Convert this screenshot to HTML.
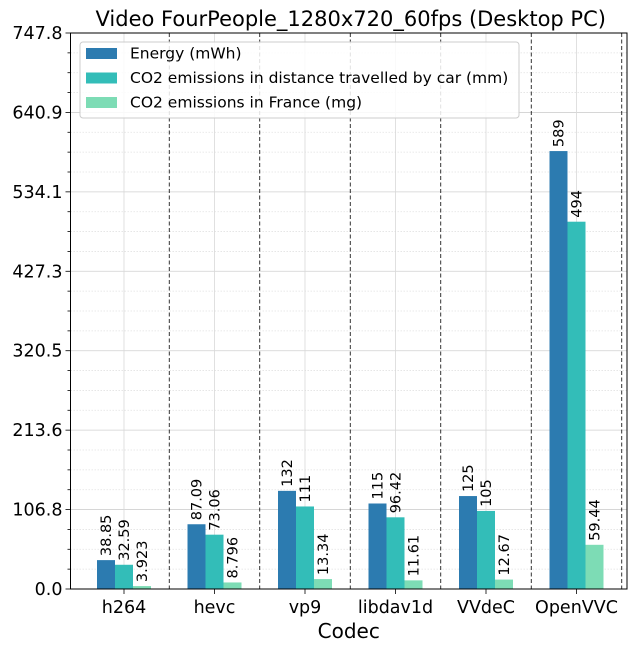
<!DOCTYPE html>
<html><head><meta charset="utf-8"><style>
body{margin:0;background:#fff;}
svg text{font-family:"DejaVu Sans","Liberation Sans",sans-serif;}
</style></head><body>
<svg id="chart" width="639" height="652" xmlns="http://www.w3.org/2000/svg"></svg>
<script>
const categories=["h264","hevc","vp9","libdav1d","VVdeC","OpenVVC"];
const energy=[38.85,87.09,132,115,125,589];
const co2Car=[32.59,73.06,111,96.42,105,494];
const co2France=[3.923,8.796,13.34,11.61,12.67,59.44];
const energyLabels=["38.85","87.09","132","115","125","589"];
const carLabels=["32.59","73.06","111","96.42","105","494"];
const franceLabels=["3.923","8.796","13.34","11.61","12.67","59.44"];
const yTicks=["0.0","106.8","213.6","320.5","427.3","534.1","640.9","747.8"];
const seriesNames=["Energy (mWh)","CO2 emissions in distance travelled by car (mm)","CO2 emissions in France (mg)"];
const colors=["#2c7bb0","#33bdb8","#7ddcb5"];
const L=70.5,R=627,T=33,B=589,yMax=747.8;
const X=i=>124+i*90.5;
const Y=v=>B-(v/yMax)*(B-T);
const svg=document.getElementById('chart');
const NS="http://www.w3.org/2000/svg";
function mk(tag,a,txt){const e=document.createElementNS(NS,tag);for(const k in a)e.setAttribute(k,a[k]);if(txt!==undefined)e.textContent=txt;svg.appendChild(e);return e;}
for(let k=0;k<=28;k++){const v=yMax*k/28;const y=Y(v);
 const g=mk('line',{x1:L,x2:R,y1:y,y2:y,stroke:k%4===0?'#d0d0d0':'#e2e2e2','stroke-width':0.8,'stroke-dasharray':k%4===0?'':'1.5,1.5'});
 
 const t=mk('line',{x1:L,x2:L-(k%4===0?5:3),y1:y,y2:y,stroke:'#000','stroke-width':0.8});
 }
categories.forEach((c,i)=>{const g=mk('line',{x1:X(i),x2:X(i),y1:T,y2:B,stroke:'#d8d8d8','stroke-width':0.8});
 
 const d=mk('line',{x1:X(i+0.5),x2:X(i+0.5),y1:T,y2:B,stroke:'#000','stroke-width':0.8,'stroke-dasharray':'4,2.5'});
 
 const tk=mk('line',{x1:X(i),x2:X(i),y1:B,y2:B+5,stroke:'#000','stroke-width':0.8});
 
 const tl=mk('text',{x:X(i),y:B+24,'text-anchor':'middle','font-size':17.5},c);
 });
const series=[energy,co2Car,co2France],labs=[energyLabels,carLabels,franceLabels];
series.forEach((s,j)=>{s.forEach((v,i)=>{const x=X(i)-27+j*18;
 const r=mk('rect',{x:x,y:Y(v),width:18,height:B-Y(v),fill:colors[j]});
 
 const cx=x+9+5,cy=Y(v)-4;
 const t=mk('text',{x:cx,y:cy,'font-size':14.5,transform:`rotate(-90 ${cx} ${cy})`},labs[j][i]);
 });});
yTicks.forEach((s,k)=>{const t=mk('text',{x:L-8,y:Y(yMax*k/7)+6,'text-anchor':'end','font-size':17.5},s);
 });
const ax=mk('rect',{x:L,y:T,width:R-L,height:B-T,fill:'none',stroke:'#000','stroke-width':1});

const ti=mk('text',{x:(L+R)/2+2,y:26,'text-anchor':'middle','font-size':21},"Video FourPeople_1280x720_60fps (Desktop PC)");

const xt=mk('text',{x:(L+R)/2,y:638,'text-anchor':'middle','font-size':20},"Codec");

const lg=mk('rect',{x:80,y:42,width:439,height:76,rx:3,fill:'#fff','fill-opacity':0.85,stroke:'#ccc'});

seriesNames.forEach((n,j)=>{const y=53+j*24.5;
 const sw=mk('rect',{x:86,y:y-5,width:31,height:11,fill:colors[j]});
 
 const t=mk('text',{x:130,y:y+5.5,'font-size':15.5},n);
 });
</script></body></html>
